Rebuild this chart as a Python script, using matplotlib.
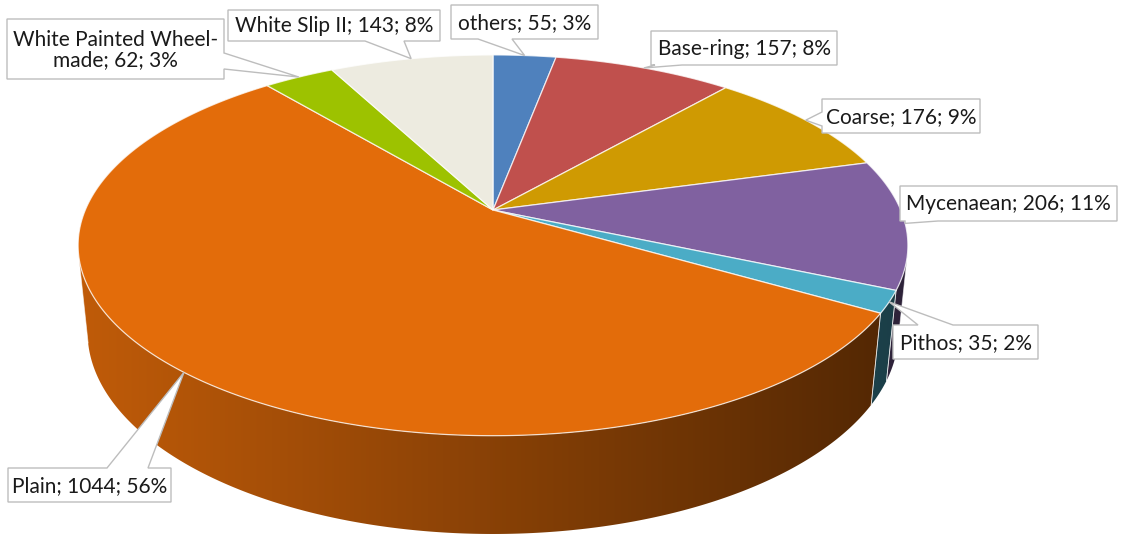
import numpy as np
import matplotlib
matplotlib.use("Agg")
import matplotlib.pyplot as plt
from matplotlib.patches import Polygon
from matplotlib.colors import to_rgb

# ---------------- data ----------------
categories = ["others", "Base-ring", "Coarse", "Mycenaean", "Pithos", "Plain",
              "White Painted Wheel-made", "White Slip II"]
values = [55, 157, 176, 206, 35, 1044, 62, 143]
colors = ["#4F81BD", "#C0504D", "#CF9A02", "#8061A0", "#4BACC6", "#E36C0A",
          "#9DC200", "#EDEBE0"]

# ---------------- figure ----------------
W, H = 1121, 541
fig = plt.figure(figsize=(W / 100, H / 100), dpi=100)
ax = fig.add_axes([0, 0, 1, 1])
ax.set_xlim(0, W)
ax.set_ylim(H, 0)
ax.axis("off")

# perspective camera for the 3D disc
elev = np.deg2rad(26.8)
ce, se = np.cos(elev), np.sin(elev)
Dcam = 4.81
Fpx = 1961.0
cx, cy = 493.0, 210.0
thick = 0.24
rx_px = 422.0


def proj(X, Y, Z):
    X = np.asarray(X, float); Y = np.asarray(Y, float); Z = np.asarray(Z, float)
    ry = Y + Dcam * ce
    rz = Z - Dcam * se
    d = ry * ce - rz * se
    up = ry * se + rz * ce
    return cx + Fpx * X / d, cy - Fpx * up / d


total = float(sum(values))
fracs = np.array(values) / total
cum = np.concatenate([[0], np.cumsum(fracs)])
start_deg = 90 - 360 * cum[:-1]   # clockwise from 12 o'clock
end_deg = 90 - 360 * cum[1:]

# visible outer wall range (front side)
phi_sil = np.rad2deg(np.arcsin(-1.0 / (Dcam * ce)))  # about -13.5
vis_hi = phi_sil
vis_lo = -180 - phi_sil

# ---- walls (gradient clipped to wall outline) ----
for i in range(len(values)):
    a_hi = min(start_deg[i], vis_hi)
    a_lo = max(end_deg[i], vis_lo)
    if a_hi <= a_lo:
        continue
    n = max(8, int((a_hi - a_lo) * 3))
    phis = np.deg2rad(np.linspace(a_hi, a_lo, n + 1))
    xt, yt = proj(np.cos(phis), np.sin(phis), 0 * phis)
    xb, yb = proj(np.cos(phis), np.sin(phis), -thick + 0 * phis)
    outline = list(zip(xt, yt)) + list(zip(xb[::-1], yb[::-1]))
    poly = Polygon(outline, closed=True, facecolor="none", edgecolor="none")
    ax.add_patch(poly)
    x0, x1 = min(xt.min(), xb.min()) - 2, max(xt.max(), xb.max()) + 2
    y0, y1 = min(yt.min(), yb.min()) - 2, max(yt.max(), yb.max()) + 2
    xs = np.linspace(x0, x1, 400)
    cosv = np.clip((xs - cx) / rx_px, -1, 1)
    f = 0.60 - 0.25 * cosv
    base = np.array(to_rgb(colors[i]))
    img = np.clip(f[None, :, None] * base[None, None, :], 0, 1)
    img = np.repeat(img, 2, axis=0)
    im = ax.imshow(img, extent=(x0, x1, y1, y0), aspect="auto",
                   interpolation="bilinear", zorder=2)
    im.set_clip_path(poly)
    for k in (0, n):
        ax.plot([xt[k], xb[k]], [yt[k], yb[k]], color="white", lw=0.6,
                alpha=0.6, zorder=3)

ax.set_xlim(0, W)
ax.set_ylim(H, 0)

# ---- tops ----
for i in range(len(values)):
    n = max(8, int(abs(start_deg[i] - end_deg[i]) * 2))
    phis = np.deg2rad(np.linspace(start_deg[i], end_deg[i], n + 1))
    xs, ys = proj(np.cos(phis), np.sin(phis), 0 * phis)
    pts = [(cx, cy)] + list(zip(xs, ys))
    ax.add_patch(Polygon(pts, closed=True, facecolor=colors[i],
                         edgecolor=(1, 1, 1, 0.75), linewidth=0.9, zorder=4,
                         joinstyle="round"))

# ---- callout labels ----
label_texts = []
for c, v in zip(categories, values):
    name = c.replace("Wheel-made", "Wheel-\nmade")
    label_texts.append(f"{name}; {v}; {round(100 * v / total):d}%")

# box (x0, y0, x1, y1), pointer side, pointer base (b1, b2)
layout = [
    ((451, 5, 598, 39), "bottom", (478, 512)),
    ((651, 31, 837, 65), "bottom", (655, 682)),
    ((822, 99, 980, 133), "left", (112, 126)),
    ((900, 186, 1117, 221), "bottom", (905, 938)),
    ((893, 325, 1038, 359), "top", (918, 953)),
    ((8, 468, 171, 502), "top", (107, 148)),
    ((7, 19, 224, 79), "right", (53, 69)),
    ((228, 10, 440, 41), "bottom", (365, 404)),
]

mids = np.deg2rad(0.5 * (start_deg + end_deg))
tipx, tipy = proj(np.cos(mids), np.sin(mids), 0 * mids)

for i, ((x0, y0, x1, y1), side, (b1, b2)) in enumerate(layout):
    tip = (tipx[i], tipy[i])
    v = [(x0, y0)]
    if side == "top":
        v += [(b1, y0), tip, (b2, y0)]
    v += [(x1, y0)]
    if side == "right":
        v += [(x1, b1), tip, (x1, b2)]
    v += [(x1, y1)]
    if side == "bottom":
        v += [(b2, y1), tip, (b1, y1)]
    v += [(x0, y1)]
    if side == "left":
        v += [(x0, b2), tip, (x0, b1)]
    ax.add_patch(Polygon(v, closed=True, facecolor="white", edgecolor="#BDBDBD",
                         linewidth=1.0, zorder=6, joinstyle="miter"))
    ax.text((x0 + x1) / 2, (y0 + y1) / 2 + 1, label_texts[i], ha="center",
            va="center", fontsize=15, family="Lato", color="#1A1A1A",
            zorder=7, linespacing=1.0)

fig.savefig("out.png", dpi=100)
